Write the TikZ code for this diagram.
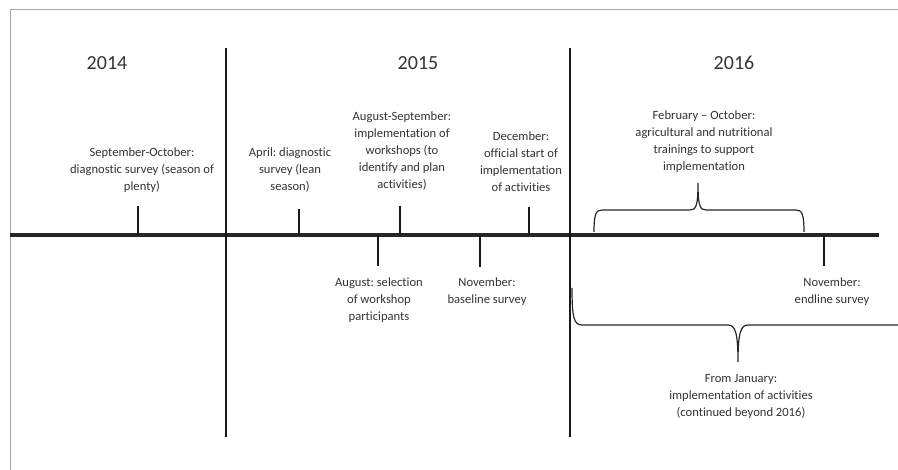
\documentclass[tikz,border=0pt]{standalone}
\usepackage{fontspec}
\setmainfont{Carlito}[Ligatures=NoCommon]
\usepackage{xcolor}
\frenchspacing
\definecolor{inkgray}{HTML}{333333}
\definecolor{framegray}{HTML}{A8A8A8}
\tikzset{
  event/.style={align=center, text=inkgray, font=\fontsize{12.6}{17}\selectfont, inner sep=0pt},
  year/.style={text=inkgray, font=\fontsize{20}{24}\selectfont, inner sep=0pt},
  tickline/.style={line width=2pt, black!90},
  divider/.style={line width=1.8pt, black!90},
  bracket/.style={line width=1.2pt, black!85}
}
\begin{document}
\begin{tikzpicture}[x=1pt, y=-1pt]
        \useasboundingbox (0,0) rectangle (898,470);
        % Draw the frame
        \draw[framegray, line width=1pt] (10,470) -- (10,10) -- (898,10);
        % Draw the time axis
        \coordinate (axisL) at (10,235);
        \coordinate (axisR) at (879,235);
        \draw[line width=4pt, black!85] (axisL) -- (axisR);
        % Draw the year dividers
        \coordinate (div1top) at (226,48);
        \coordinate (div1bot) at (226,437);
        \coordinate (div2top) at (570,48);
        \coordinate (div2bot) at (570,437);
        \draw[divider] (div1top) -- (div1bot);
        \draw[divider] (div2top) -- (div2bot);
        % Year labels
        \node[year] (y2014) at (107,63) {2014};
        \node[year] (y2015) at (418,63) {2015};
        \node[year] (y2016) at (734,63) {2016};
        % Ticks above and below the axis
        \foreach \n/\x/\y in {sep/138/206, apr/299/209, aug/400/206, dec/529/207,
                              sel/378/266, nov/480/267, end/824/266} {
            \coordinate (tick\n) at (\x,\y);
            \draw[tickline] (tick\n) -- (tick\n |- axisL);
        }
        % Events above the axis
        \node[event] (sepoct) at (142,170) {September-October:\\diagnostic survey (season of\\plenty)};
        \node[event] (april) at (290,170) {April: diagnostic\\survey (lean\\season)};
        \node[event] (augsep) at (402,151) {August-September:\\implementation of\\workshops (to\\identify and plan\\activities)};
        \node[event] (december) at (521,161.5) {December:\\official start of\\implementation\\of activities};
        \node[event] (febokt) at (704,142) {February -- October:\\agricultural and nutritional\\trainings to support\\implementation};
        % Events below the axis
        \node[event] (selection) at (379,300) {August: selection\\of workshop\\participants};
        \node[event] (baseline) at (487,291.5) {November:\\baseline survey};
        \node[event] (endline) at (832,291.5) {November:\\endline survey};
        \node[event] (fromjan) at (741,396) {From January:\\implementation of activities\\(continued beyond 2016)};
        % Draw the braces
        \coordinate (topL) at (594,232);
        \coordinate (topR) at (804,232);
        \coordinate (topTip) at (698,183);
        \draw[bracket] (topL) .. controls (594,214) and (596,210) .. (602,210) -- (690,210)
            .. controls (696,210) and (698,206) .. (topTip)
            .. controls (698,206) and (700,210) .. (706,210) -- (796,210)
            .. controls (802,210) and (804,214) .. (topR);
        \coordinate (botL) at (572,288);
        \coordinate (botR) at (898,325);
        \coordinate (botTip) at (738,362);
        \draw[bracket] (botL) .. controls (572,318) and (574,325) .. (582,325) -- (728,325)
            .. controls (735,325) and (738,332) .. (botTip)
            .. controls (738,332) and (741,325) .. (748,325) -- (botR);
\end{tikzpicture}
\end{document}
